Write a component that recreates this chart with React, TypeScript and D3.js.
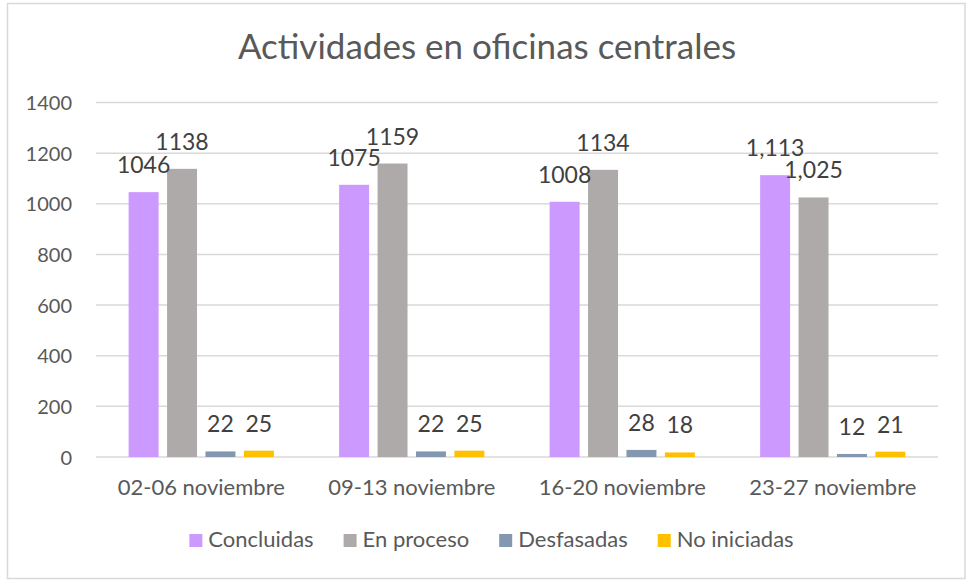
import React, { useEffect, useRef } from 'react';
import * as d3 from 'd3';

// Chart data
const categories = ['02-06 noviembre', '09-13 noviembre', '16-20 noviembre', '23-27 noviembre'];
const seriesNames = ['Concluidas', 'En proceso', 'Desfasadas', 'No iniciadas'];
const concluidas = [1046, 1075, 1008, 1113];
const enProceso = [1138, 1159, 1134, 1025];
const desfasadas = [22, 22, 28, 12];
const noIniciadas = [25, 25, 18, 21];
// last week's labels use thousands separator in the original
const labelFormats = ['d', 'd', 'd', ','];
const yTicks = [0, 200, 400, 600, 800, 1000, 1200, 1400];

const seriesColors = ['#CC99FF', '#AEAAAA', '#8497B0', '#FFC000'];
const FONT = 'Lato, "Open Sans", sans-serif';

const App: React.FC = () => {
  const svgRef = useRef<SVGSVGElement>(null);

  useEffect(() => {
    document.body.style.margin = '0';
    if (!svgRef.current) return;
    const svg = d3.select(svgRef.current);
    svg.selectAll('*').remove();

    const width = 967;
    const height = 580;
    const plot = { left: 96, right: 938, top: 102.5, bottom: 457 };

    svg.attr('width', width).attr('height', height);

    // outer frame
    svg.append('rect')
      .attr('x', 7.5).attr('y', 3.5)
      .attr('width', 957.5).attr('height', 575)
      .attr('fill', '#fff')
      .attr('stroke', '#d9d9d9')
      .attr('stroke-width', 1.5);

    // title
    svg.append('text')
      .attr('x', 487).attr('y', 59)
      .attr('text-anchor', 'middle')
      .style('font-family', FONT)
      .style('font-size', '35px')
      .style('fill', '#595959')
      .text('Actividades en oficinas centrales');

    const y = d3.scaleLinear().domain([0, 1400]).range([plot.bottom, plot.top]);
    const x0 = d3.scaleBand<string>()
      .domain(categories)
      .range([plot.left, plot.right])
      .paddingInner(0.31)
      .paddingOuter(0.155);
    const x1 = d3.scaleBand<string>()
      .domain(seriesNames)
      .range([0, x0.bandwidth()])
      .paddingInner(0.22)
      .paddingOuter(0);

    // gridlines
    svg.append('g')
      .selectAll('line')
      .data(yTicks)
      .enter()
      .append('line')
      .attr('x1', plot.left).attr('x2', plot.right)
      .attr('y1', d => y(d)).attr('y2', d => y(d))
      .attr('stroke', '#d9d9d9')
      .attr('stroke-width', 1.5);

    // y tick labels
    svg.append('g')
      .selectAll('text')
      .data(yTicks)
      .enter()
      .append('text')
      .attr('x', 72)
      .attr('y', d => y(d) + 7.5)
      .attr('text-anchor', 'end')
      .style('font-family', FONT)
      .style('font-size', '20px')
      .style('fill', '#595959')
      .text(d => String(d));

    const seriesValues = [concluidas, enProceso, desfasadas, noIniciadas];

    // bars
    const groups = svg.append('g')
      .selectAll('g')
      .data(categories)
      .enter()
      .append('g')
      .attr('transform', d => `translate(${x0(d)},0)`);

    groups.each(function (cat, ci) {
      const g = d3.select(this);
      const rows = seriesNames.map((s, si) => ({ s, si, v: seriesValues[si][ci] }));
      g.selectAll('rect')
        .data(rows)
        .enter()
        .append('rect')
        .attr('x', d => x1(d.s)!)
        .attr('y', d => y(d.v))
        .attr('width', x1.bandwidth())
        .attr('height', d => y(0) - y(d.v))
        .attr('fill', d => seriesColors[d.si]);

      const fmt = d3.format(labelFormats[ci]);
      g.selectAll('text.lbl')
        .data(rows)
        .enter()
        .append('text')
        .attr('class', 'lbl')
        .attr('x', d => x1(d.s)! + x1.bandwidth() / 2)
        .attr('y', d => y(d.v) - 19)
        .attr('text-anchor', 'middle')
        .style('font-family', FONT)
        .style('font-size', '23px')
        .style('fill', '#404040')
        .text(d => fmt(d.v));
    });

    // category labels
    svg.append('g')
      .selectAll('text')
      .data(categories)
      .enter()
      .append('text')
      .attr('x', d => x0(d)! + x0.bandwidth() / 2)
      .attr('y', 495)
      .attr('text-anchor', 'middle')
      .style('font-family', FONT)
      .style('font-size', '22px')
      .style('fill', '#595959')
      .text(d => d);

    // legend, laid out from measured text widths
    const legend = svg.append('g');
    const items = legend.selectAll('g')
      .data(seriesNames)
      .enter()
      .append('g');
    items.append('rect')
      .attr('width', 13).attr('height', 13)
      .attr('y', 534)
      .attr('fill', (d, i) => seriesColors[i]);
    items.append('text')
      .attr('x', 19)
      .attr('y', 547)
      .style('font-family', FONT)
      .style('font-size', '22px')
      .style('fill', '#595959')
      .text(d => d);

    const widths: number[] = [];
    items.select('text').each(function () {
      widths.push(19 + (this as SVGTextElement).getComputedTextLength());
    });
    const gap = 30;
    const total = d3.sum(widths) + gap * (widths.length - 1);
    let cx = 491.5 - total / 2;
    items.attr('transform', (d, i) => {
      const t = `translate(${cx},0)`;
      cx += widths[i] + gap;
      return t;
    });
  }, []);

  return <svg ref={svgRef} style={{ display: 'block' }} />;
};

export default App;
